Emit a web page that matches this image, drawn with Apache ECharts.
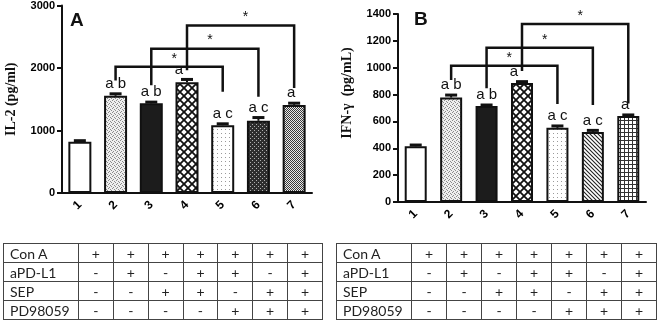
<!DOCTYPE html>
<html lang="en">
<head>
<meta charset="UTF-8">
<title>IL-2 / IFN-γ</title>
<script src="https://cdn.jsdelivr.net/npm/echarts@6.0.0/dist/echarts.min.js"></script>
<style>
    body { margin: 0; background: #fff; }
    #chart { position: absolute; left: 0; top: 0; width: 660px; height: 322px; }
    table.grp { position: absolute; top: 243px; border-collapse: collapse; table-layout: fixed;
        font-family: Lato, "Open Sans", sans-serif; font-size: 14px; color: #222; }
    table.grp td { border: 1px solid #444; height: 19px; box-sizing: border-box; padding: 0; line-height: 17px; text-align: center; overflow: hidden; }
    table.grp td.nm { text-align: left; padding-left: 6px; }
</style>
</head>
<body>
<div id="chart"></div>
<table class="grp" id="tabA" style="left:3px;width:320px"></table>
<table class="grp" id="tabB" style="left:336px;width:321px"></table>
<script>
    // data
    var categories = ['1', '2', '3', '4', '5', '6', '7'];
    var il2Mean   = [820, 1555, 1435, 1772, 1085, 1155, 1410];
    var il2ErrTop = [845, 1595, 1462, 1825, 1115, 1215, 1445];
    var ifnMean   = [415, 778, 714, 886, 552, 522, 640];
    var ifnErrTop = [428, 800, 726, 900, 570, 537, 652];
    var sigLetters = ['', 'a b', 'a b', 'a', 'a c', 'a c', 'a'];
    // [from bar, to bar, bracket top, left leg end, right leg end]
    var il2Brackets = [[1, 4, 2020, 1800, 1620], [2, 5, 2310, 1725, 1540], [3, 6, 2680, 1965, 1680]];
    var ifnBrackets = [[1, 4, 1015, 908, 729], [2, 5, 1149, 848, 722], [3, 6, 1326, 975, 734]];
    var il2Axis = {min: 0, max: 3000, interval: 1000};
    var ifnAxis = {min: 0, max: 1400, interval: 200};
    var treatments = ['Con A', 'aPD-L1', 'SEP', 'PD98059'];
    var treatmentSigns = [
        ['+', '+', '+', '+', '+', '+', '+'],
        ['-', '+', '-', '+', '+', '-', '+'],
        ['-', '-', '+', '+', '-', '+', '+'],
        ['-', '-', '-', '-', '+', '+', '+']
    ];

    // tables under the plots
    function fillTable(id) {
        var html = '<colgroup><col style="width:75px">';
        for (var i = 0; i < categories.length; i++) html += '<col>';
        html += '</colgroup>';
        for (var r = 0; r < treatments.length; r++) {
            html += '<tr><td class="nm">' + treatments[r] + '</td>';
            for (var c = 0; c < treatmentSigns[r].length; c++) html += '<td>' + treatmentSigns[r][c] + '</td>';
            html += '</tr>';
        }
        document.getElementById(id).innerHTML = html;
    }
    fillTable('tabA');
    fillTable('tabB');

    // fill patterns
    function pat(w, h, draw) {
        var c = document.createElement('canvas');
        c.width = w; c.height = h;
        var g = c.getContext('2d');
        draw(g, w, h);
        return {image: c, repeat: 'repeat'};
    }
    var pWhite = '#ffffff';
    var pSpeckle = pat(4, 4, function (g) {
        g.fillStyle = '#eeeeee'; g.fillRect(0, 0, 4, 4);
        g.fillStyle = '#8a8a8a'; g.fillRect(0, 0, 1, 1); g.fillRect(2, 1, 1, 1); g.fillRect(1, 3, 1, 1); g.fillRect(3, 2, 1, 1);
    });
    var pBlack = '#1c1c1c';
    var pCross = pat(8, 8, function (g) {
        g.fillStyle = '#fff'; g.fillRect(0, 0, 8, 8);
        g.strokeStyle = '#111'; g.lineWidth = 1.8;
        g.beginPath(); g.moveTo(0, 0); g.lineTo(8, 8); g.moveTo(8, 0); g.lineTo(0, 8); g.stroke();
    });
    var pDots = pat(4, 4, function (g) {
        g.fillStyle = '#fff'; g.fillRect(0, 0, 4, 4);
        g.fillStyle = '#9a9a9a'; g.fillRect(1, 1, 1, 1);
    });
    var pDark = pat(4, 4, function (g) {
        g.fillStyle = '#2e2e2e'; g.fillRect(0, 0, 4, 4);
        g.fillStyle = '#b0b0b0'; g.fillRect(0, 0, 1, 1); g.fillRect(2, 2, 1, 1);
    });
    var pGrey = pat(2, 2, function (g) {
        g.fillStyle = '#eaeaea'; g.fillRect(0, 0, 2, 2);
        g.fillStyle = '#3a3a3a'; g.fillRect(0, 0, 1, 1); g.fillRect(1, 1, 1, 1);
    });
    var pHatch = pat(4, 4, function (g) {
        g.fillStyle = '#fff'; g.fillRect(0, 0, 4, 4);
        g.strokeStyle = '#222'; g.lineWidth = 1.1;
        g.beginPath(); g.moveTo(-1, -1); g.lineTo(5, 5); g.moveTo(-1, 3); g.lineTo(1, 5); g.moveTo(3, -1); g.lineTo(5, 1); g.stroke();
    });
    var pGrid = pat(4, 4, function (g) {
        g.fillStyle = '#fff'; g.fillRect(0, 0, 4, 4);
        g.fillStyle = '#333'; g.fillRect(0, 0, 4, 1); g.fillRect(0, 0, 1, 4);
    });
    var fillsA = [pWhite, pSpeckle, pBlack, pCross, pDots, pDark, pGrey];
    var fillsB = [pWhite, pSpeckle, pBlack, pCross, pDots, pHatch, pGrid];
    var letterDx = [0, 0, 0, -8, 0, 0, -3];

    function barData(vals, fills) {
        return vals.map(function (v, i) {
            return {value: v, itemStyle: {color: fills[i]}};
        });
    }
    function errData(mean, top) {
        return mean.map(function (v, i) { return [i, v, top[i]]; });
    }

    function errRender(params, api) {
        var i = api.value(0);
        var p0 = api.coord([i, api.value(1)]);
        var p1 = api.coord([i, api.value(2)]);
        return {
            type: 'group',
            children: [
                {type: 'line', shape: {x1: p0[0], y1: p0[1], x2: p1[0], y2: p1[1]}, style: {stroke: '#111', lineWidth: 2}},
                {type: 'rect', shape: {x: p1[0] - 6, y: p1[1] - 1, width: 12, height: 3}, style: {fill: '#111'}},
                {type: 'text', x: p1[0] + letterDx[params.dataIndex], y: p1[1] - 2,
                    style: {text: sigLetters[params.dataIndex], font: '15px "Liberation Sans", Arial', fill: '#111', align: 'center', verticalAlign: 'bottom'}}
            ]
        };
    }

    function bracketRender(params, api) {
        var a = api.value(0), b = api.value(1);
        var pt = api.coord([a, api.value(2)]);
        var pl = api.coord([a, api.value(3)]);
        var qt = api.coord([b, api.value(2)]);
        var qr = api.coord([b, api.value(4)]);
        return {
            type: 'group',
            children: [
                {type: 'polyline', shape: {points: [pl, pt, qt, qr]}, style: {stroke: '#111', lineWidth: 2.5, fill: null}},
                {type: 'text', x: (pt[0] + qt[0]) / 2 + 5, y: pt[1] - 1,
                    style: {text: '*', font: '14px "Liberation Sans", Arial', fill: '#111', align: 'center', verticalAlign: 'bottom'}}
            ]
        };
    }

    var axisBlack = {lineStyle: {color: '#111', width: 2}};
    function xAxis(gi) {
        return {
            type: 'category', gridIndex: gi, data: categories, boundaryGap: true,
            axisLine: axisBlack,
            axisTick: {alignWithLabel: true, length: 4, lineStyle: {color: '#111', width: 2}},
            axisLabel: {rotate: 45, margin: 10, color: '#000', fontFamily: '"Liberation Sans", Arial', fontWeight: 'bold', fontSize: 12}
        };
    }
    function yAxis(gi, ax, name, pad) {
        return {
            type: 'value', gridIndex: gi, min: ax.min, max: ax.max, interval: ax.interval,
            name: name, nameLocation: 'middle', nameGap: 44,
            nameTextStyle: {fontFamily: '"Liberation Serif", "Times New Roman", serif', fontWeight: 'bold', fontSize: 14, color: '#111', padding: pad},
            axisLine: {show: true, lineStyle: {color: '#111', width: 2}},
            axisTick: {show: true, length: 5, lineStyle: {color: '#111', width: 2}},
            axisLabel: {margin: 7, color: '#000', fontFamily: '"Liberation Sans", Arial', fontWeight: 'bold', fontSize: 11,
                formatter: function (v) { return String(v); }},
            splitLine: {show: false}
        };
    }

    var chart = echarts.init(document.getElementById('chart'));
    var option = {
        animation: false,
        backgroundColor: 'transparent',
        grid: [
            {left: 62, top: 5, width: 250, height: 188},
            {left: 398, top: 14, width: 248, height: 188}
        ],
        xAxis: [xAxis(0), xAxis(1)],
        yAxis: [yAxis(0, il2Axis, 'IL-2 (pg/ml)', [0, 0, 0, 0]), yAxis(1, ifnAxis, 'IFN-γ  (pg/mL)', [0, 0, 0, 30])],
        graphic: [
            {type: 'text', x: 70, y: 21, style: {text: 'A', font: 'bold 19px "Liberation Sans", Arial', fill: '#111', verticalAlign: 'middle'}},
            {type: 'text', x: 414, y: 20, style: {text: 'B', font: 'bold 19px "Liberation Sans", Arial', fill: '#111', verticalAlign: 'middle'}}
        ],
        series: [
            {type: 'bar', xAxisIndex: 0, yAxisIndex: 0, barWidth: 23, data: barData(il2Mean, fillsA),
                itemStyle: {borderColor: '#111', borderWidth: 2}},
            {type: 'custom', xAxisIndex: 0, yAxisIndex: 0, data: errData(il2Mean, il2ErrTop), renderItem: errRender, z: 3},
            {type: 'custom', xAxisIndex: 0, yAxisIndex: 0, data: il2Brackets, renderItem: bracketRender, z: 4},
            {type: 'bar', xAxisIndex: 1, yAxisIndex: 1, barWidth: 22, data: barData(ifnMean, fillsB),
                itemStyle: {borderColor: '#111', borderWidth: 2}},
            {type: 'custom', xAxisIndex: 1, yAxisIndex: 1, data: errData(ifnMean, ifnErrTop), renderItem: errRender, z: 3},
            {type: 'custom', xAxisIndex: 1, yAxisIndex: 1, data: ifnBrackets, renderItem: bracketRender, z: 4}
        ]
    };
    chart.setOption(option);
</script>
</body>
</html>
